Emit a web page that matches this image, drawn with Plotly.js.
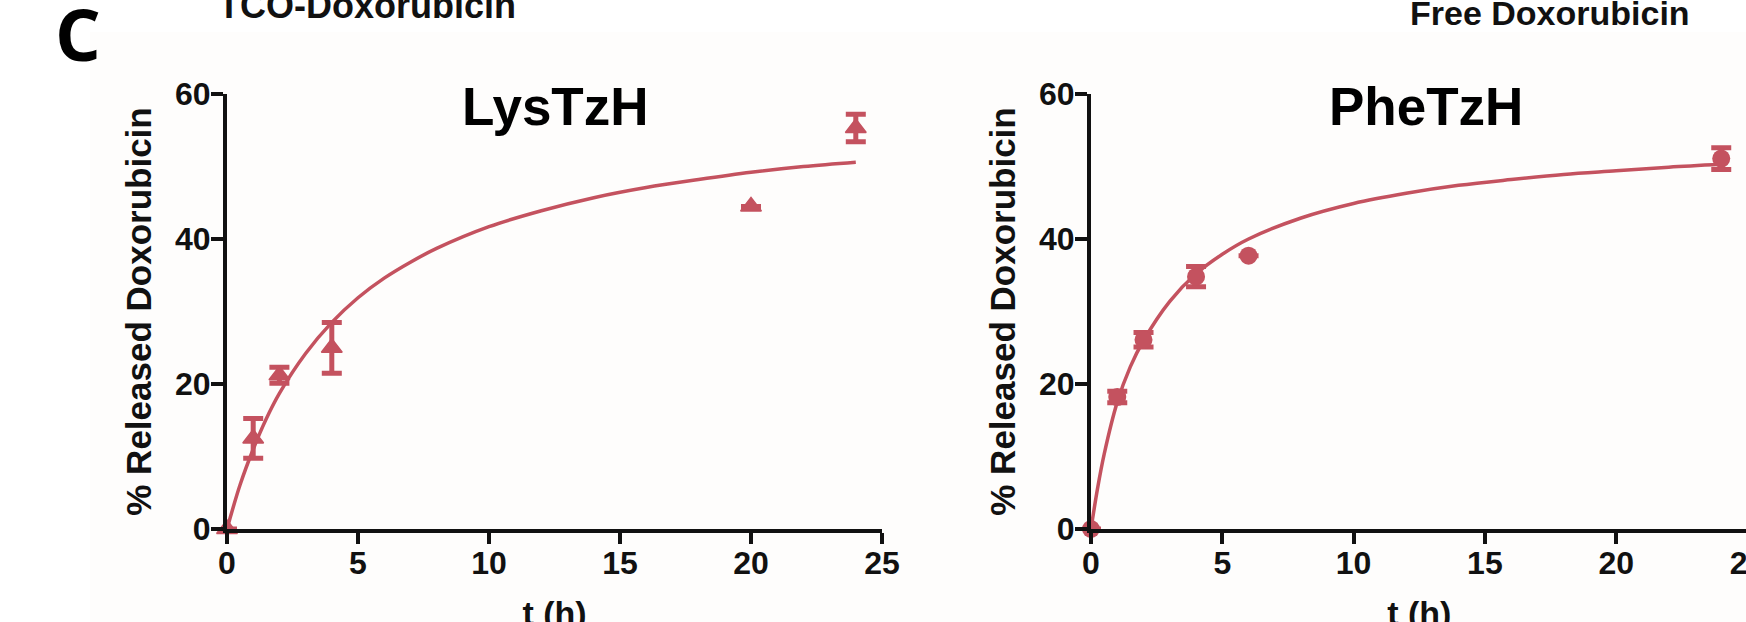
<!DOCTYPE html>
<html>
<head>
<meta charset="utf-8">
<script src="https://cdn.plot.ly/plotly-3.0.1.min.js"></script>
<style>
  html, body { margin: 0; padding: 0; background: #ffffff; overflow: hidden; width: 1746px; height: 622px; }
  #chart { position: absolute; left: 0; top: 0; width: 1800px; height: 660px; }
</style>
</head>
<body>
<div id="chart"></div>
<script>
// ---- data ----
const panelTitles = ["LysTzH", "PheTzH"];
const groupLabels = ["TCO-Doxorubicin", "Free Doxorubicin"];
const xTickVals = [0, 5, 10, 15, 20, 25];
const yTickVals = [0, 20, 40, 60];

// LysTzH measured points (triangles)
const lysT    = [0, 1, 2, 4, 20, 24];
const lysY    = [0, 12.5, 21.2, 25.0, 44.5, 55.3];
const lysErr  = [0, 2.75, 1.1, 3.5, 0, 1.9];
// LysTzH fitted curve
const lysFitT = [0, 0.5, 1, 1.5, 2, 3, 4, 5, 6, 7, 8, 10, 12, 14, 16, 18, 20, 22, 24];
const lysFitY = [0, 6.1, 11.0, 15.2, 18.7, 24.2, 28.5, 31.9, 34.6, 36.8, 38.7, 41.7, 43.9, 45.7, 47.1, 48.2, 49.2, 50.0, 50.6];

// PheTzH measured points (circles)
const pheT    = [0, 1, 2, 4, 6, 24];
const pheY    = [0, 18.2, 26.1, 34.8, 37.7, 51.1];
const pheErr  = [0, 0.8, 1.0, 1.4, 0, 1.5];
// PheTzH fitted curve
const pheFitT = [0, 0.25, 0.5, 1, 1.5, 2, 3, 4, 5, 6, 8, 10, 12, 14, 16, 18, 20, 22, 24];
const pheFitY = [0, 5.6, 10.3, 17.5, 22.4, 26.0, 31.4, 35.2, 37.9, 40.0, 42.9, 44.9, 46.3, 47.4, 48.2, 48.9, 49.4, 49.9, 50.3];

// ---- styling ----
const W = 1800, H = 660;
const red = "#C4525F";
const fam = "Liberation Sans, Arial, sans-serif";
const px = v => v / W;
const py = v => 1 - v / H;

const yDom = [py(529), py(94)];

function axisX(domain, anchor) {
  return {
    domain: domain, anchor: anchor, range: [0, 25],
    tickvals: xTickVals, ticktext: xTickVals.map(String),
    showline: true, linewidth: 4, linecolor: "#111111",
    ticks: "outside", ticklen: 11, tickwidth: 4, tickcolor: "#111111",
    ticklabelstandoff: -8,
    showgrid: false, zeroline: false,
    tickfont: { family: fam, size: 32, weight: "bold", color: "#111111" },
    title: { text: "t (h)", font: { family: fam, size: 34, weight: "bold", color: "#111111" }, standoff: 22 }
  };
}
function axisY(anchor) {
  return {
    domain: yDom, anchor: anchor, range: [0, 60],
    tickvals: yTickVals, ticktext: yTickVals.map(String),
    showline: true, linewidth: 4, linecolor: "#111111",
    ticks: "outside", ticklen: 12, tickwidth: 4, tickcolor: "#111111",
    ticklabelstandoff: -6,
    showgrid: false, zeroline: false,
    tickfont: { family: fam, size: 32, weight: "bold", color: "#111111" },
    title: { text: "% Released Doxorubicin", font: { family: fam, size: 35, weight: "bold", color: "#111111" }, standoff: 14 }
  };
}

const traces = [
  { x: lysFitT, y: lysFitY, xaxis: "x", yaxis: "y", mode: "lines",
    line: { color: red, width: 3.5, shape: "spline" }, hoverinfo: "skip", showlegend: false, cliponaxis: false },
  { x: lysT, y: lysY, xaxis: "x", yaxis: "y", mode: "markers",
    marker: { symbol: "triangle-up", size: 18, color: red, line: { color: red, width: 1.5 } },
    error_y: { type: "data", array: lysErr, visible: true, color: red, thickness: 5, width: 10 },
    showlegend: false, cliponaxis: false },
  { x: pheFitT, y: pheFitY, xaxis: "x2", yaxis: "y2", mode: "lines",
    line: { color: red, width: 3.5, shape: "spline" }, hoverinfo: "skip", showlegend: false, cliponaxis: false },
  { x: pheT, y: pheY, xaxis: "x2", yaxis: "y2", mode: "markers",
    marker: { symbol: "circle", size: 18, color: red },
    error_y: { type: "data", array: pheErr, visible: true, color: red, thickness: 5, width: 10 },
    showlegend: false, cliponaxis: false }
];

const layout = {
  width: W, height: H,
  margin: { l: 0, r: 0, t: 0, b: 0 },
  paper_bgcolor: "#ffffff", plot_bgcolor: "rgba(0,0,0,0)",
  showlegend: false,
  xaxis: axisX([px(227), px(882)], "y"),
  yaxis: axisY("x"),
  xaxis2: axisX([px(1091), px(1747.5)], "y2"),
  yaxis2: axisY("x2"),
  shapes: [
    { type: "rect", xref: "paper", yref: "paper", x0: px(90), x1: 1, y0: 0, y1: py(32),
      fillcolor: "#FEFDFC", line: { width: 0 }, layer: "below" }
  ],
  annotations: [
    { text: "C", xref: "paper", yref: "paper", x: px(78), y: py(33), xanchor: "center", yanchor: "middle",
      showarrow: false, font: { family: "Open Sans, sans-serif", size: 72, weight: "bold", color: "#000000" } },
    { text: groupLabels[0], xref: "paper", yref: "paper", x: px(367), y: py(6), xanchor: "center", yanchor: "middle",
      showarrow: false, font: { family: fam, size: 36, weight: "bold", color: "#111111" } },
    { text: groupLabels[1], xref: "paper", yref: "paper", x: px(1550), y: py(13), xanchor: "center", yanchor: "middle",
      showarrow: false, font: { family: fam, size: 34, weight: "bold", color: "#111111" } },
    { text: panelTitles[0], xref: "paper", yref: "paper", x: px(555), y: py(106), xanchor: "center", yanchor: "middle",
      showarrow: false, font: { family: fam, size: 53, weight: "bold", color: "#000000" } },
    { text: panelTitles[1], xref: "paper", yref: "paper", x: px(1426), y: py(106), xanchor: "center", yanchor: "middle",
      showarrow: false, font: { family: fam, size: 53, weight: "bold", color: "#000000" } }
  ]
};

Plotly.newPlot("chart", traces, layout, { displayModeBar: false, staticPlot: true });
</script>
</body>
</html>
